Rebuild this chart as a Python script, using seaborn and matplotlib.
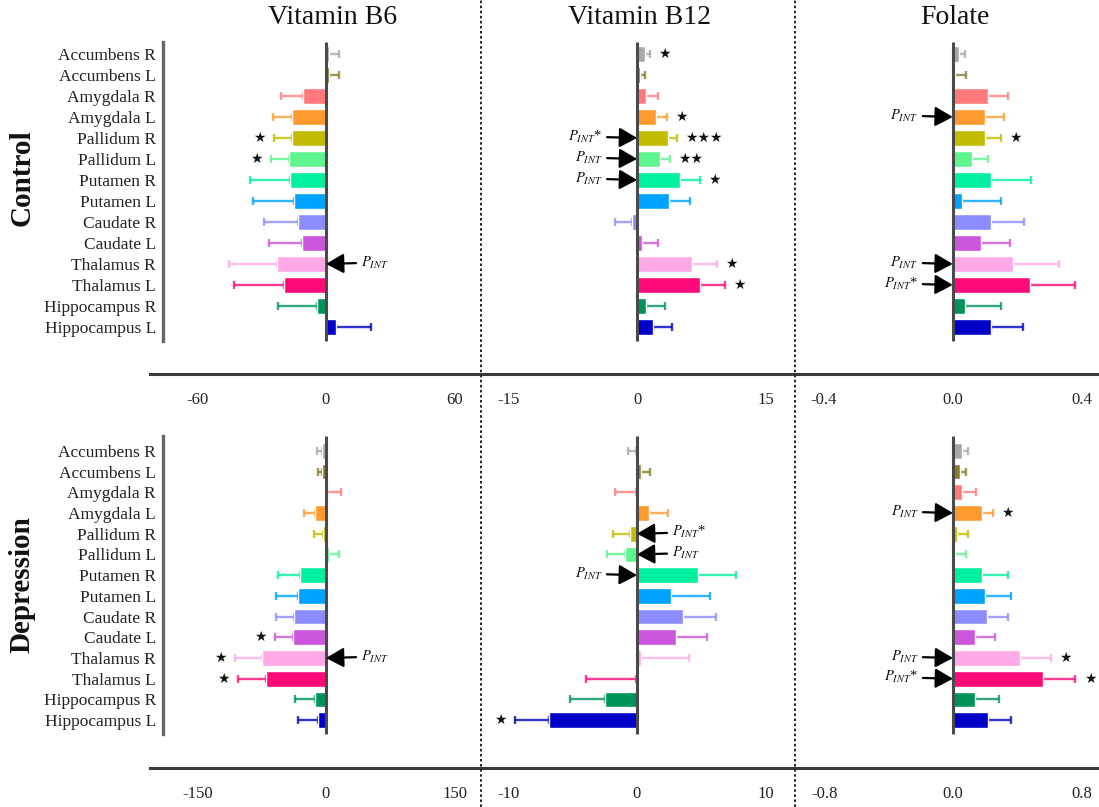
import matplotlib
matplotlib.use("Agg")
import matplotlib.pyplot as plt
import seaborn as sns
from matplotlib.lines import Line2D

# ---------------- data ----------------
regions = ["Accumbens R", "Accumbens L", "Amygdala R", "Amygdala L",
           "Pallidum R", "Pallidum L", "Putamen R", "Putamen L",
           "Caudate R", "Caudate L", "Thalamus R", "Thalamus L",
           "Hippocampus R", "Hippocampus L"]
colors = ["#a8a8a8", "#8c7a2e", "#ff7b7b", "#ff9a30", "#c2bd00", "#5ef58e",
          "#00f0a2", "#00a2ff", "#8c8cff", "#cc55dd", "#ffaae6", "#ff0a78",
          "#00945a", "#0000c8"]

titles = ["Vitamin B6", "Vitamin B12", "Folate"]
groups = ["Control", "Depression"]

b6_ctrl = [1.2, 1.5, -10.6, -15.7, -16.0, -17.1, -16.8, -14.8, -12.9, -11.4, -23.0, -19.8, -4.4, 4.5]
b6_ctrl_err = [4.9, 4.7, 10.6, 9.2, 8.3, 8.4, 18.7, 19.1, 15.9, 15.4, 22.3, 23.2, 17.9, 16.7]
b12_ctrl = [0.89, 0.3, 1.05, 2.2, 3.55, 2.7, 5.0, 3.74, -0.55, 0.55, 6.42, 7.28, 1.0, 1.9]
b12_ctrl_err = [0.58, 0.6, 1.35, 1.3, 1.05, 1.15, 2.35, 2.46, 2.02, 1.85, 2.88, 2.99, 2.27, 2.15]
fol_ctrl = [0.019, 0.007, 0.109, 0.099, 0.099, 0.059, 0.12, 0.028, 0.119, 0.089, 0.188, 0.24, 0.038, 0.119]
fol_ctrl_err = [0.020, 0.033, 0.061, 0.061, 0.050, 0.051, 0.122, 0.121, 0.103, 0.090, 0.142, 0.140, 0.111, 0.100]

b6_dep = [-5.1, -4.3, 0.6, -12.8, -3.1, 3.5, -30.4, -32.3, -37.4, -38.9, -75.1, -70.4, -13.2, -9.7]
b6_dep_err = [5.8, 5.4, 16.5, 12.9, 10.9, 11.7, 25.2, 26.1, 21.0, 20.2, 31.1, 32.7, 23.0, 22.6]
b12_dep = [-0.08, 0.31, -0.1, 0.97, -0.56, -0.97, 4.73, 2.63, 3.62, 3.0, 0.35, -0.1, -2.5, -6.81]
b12_dep_err = [0.60, 0.73, 1.6, 1.46, 1.32, 1.35, 2.99, 3.09, 2.54, 2.46, 3.71, 3.83, 2.73, 2.67]
fol_dep = [0.056, 0.046, 0.058, 0.18, 0.025, 0.015, 0.18, 0.197, 0.212, 0.139, 0.419, 0.56, 0.139, 0.22]
fol_dep_err = [0.037, 0.037, 0.085, 0.069, 0.068, 0.067, 0.16, 0.164, 0.128, 0.122, 0.191, 0.202, 0.145, 0.141]

ticks_ctrl = [[-60, 0, 60], [-15, 0, 15], [-0.4, 0.0, 0.4]]
ticks_dep = [[-150, 0, 150], [-10, 0, 10], [-0.8, 0.0, 0.8]]

# significance stars: (row, col) -> [(region index, label)]
stars = {
    (0, 0): [(4, "★"), (5, "★")],
    (0, 1): [(0, "★"), (3, "★"), (4, "★★★"), (5, "★★"), (6, "★"), (10, "★"), (11, "★")],
    (0, 2): [(4, "★")],
    (1, 0): [(9, "★"), (10, "★"), (11, "★")],
    (1, 1): [(13, "★")],
    (1, 2): [(3, "★"), (10, "★"), (11, "★")],
}
# interaction markers: (row, col) -> [(region index, side of text, label)]
pint = {
    (0, 0): [(10, "R", "")],
    (0, 1): [(4, "L", "*"), (5, "L", ""), (6, "L", "")],
    (0, 2): [(3, "L", ""), (10, "L", ""), (11, "L", "*")],
    (1, 0): [(10, "R", "")],
    (1, 1): [(4, "R", "*"), (5, "R", ""), (6, "L", "")],
    (1, 2): [(3, "L", ""), (10, "L", ""), (11, "L", "*")],
}

values = [[(b6_ctrl, b6_ctrl_err), (b12_ctrl, b12_ctrl_err), (fol_ctrl, fol_ctrl_err)],
          [(b6_dep, b6_dep_err), (b12_dep, b12_dep_err), (fol_dep, fol_dep_err)]]

# ---------------- style ----------------
sns.set_style("white")
plt.rcParams["font.family"] = ["Liberation Serif", "DejaVu Sans"]
plt.rcParams["mathtext.fontset"] = "stix"
plt.rcParams["axes.unicode_minus"] = False

W, H = 1099, 807
fig = plt.figure(figsize=(W / 100, H / 100), dpi=100)

col_px = [150, 481, 795, 1099]
row_px = [(42, 374), (436, 768)]
ylims = [(15.24, -0.57), (15.31, -0.72)]
spine_bounds = [(-0.57, 13.67), (-0.72, 13.67)]
xlims = [[(-82.2, 72.4), (-18.2, 18.4), (-0.49, 0.454)],
         [(-205.4, 180.9), (-12.14, 12.30), (-0.984, 0.909)]]
all_ticks = [ticks_ctrl, ticks_dep]
axis_col = "#3a3a3a"

for r in range(2):
    for c in range(3):
        x0, x1 = col_px[c], col_px[c + 1]
        y0, y1 = row_px[r]
        ax = fig.add_axes([x0 / W, 1 - y1 / H, (x1 - x0) / W, (y1 - y0) / H])
        ax.patch.set_alpha(0)
        vals, errs = values[r][c]
        sns.barplot(x=vals, y=regions, hue=regions, order=regions, hue_order=regions,
                    palette=colors, orient="h", width=0.76, saturation=1,
                    legend=False, ax=ax, zorder=2)
        for i, (v, e) in enumerate(zip(vals, errs)):
            xerr = [[0], [e]] if v >= 0 else [[e], [0]]
            ax.errorbar([v], [i], xerr=xerr, fmt="none", ecolor=colors[i],
                        elinewidth=1.7, capsize=2.8, capthick=1.7, alpha=0.8, zorder=1)
        lo, hi = spine_bounds[r]
        ax.plot([0, 0], [lo, hi], color="#4a4a4a", lw=2.2, zorder=3, solid_capstyle="butt")
        ax.set_xlim(*xlims[r][c])
        ax.set_ylim(*ylims[r])
        ax.set_xlabel("")
        ax.set_ylabel("")
        for s in ["top", "right"]:
            ax.spines[s].set_visible(False)
        ax.spines["bottom"].set_color(axis_col)
        ax.spines["bottom"].set_linewidth(2.2)
        ticks = all_ticks[r][c]
        ax.set_xticks(ticks)
        if c == 2:
            ax.set_xticklabels([f"{t:.1f}" for t in ticks])
        else:
            ax.set_xticklabels([f"{t:g}" for t in ticks])
        ax.tick_params(axis="x", direction="out", length=8, width=1.3, color=axis_col,
                       pad=5, labelsize=12, labelcolor="#222222")
        if c == 0:
            ax.spines["left"].set_position(("axes", (163 - 150) / (x1 - x0)))
            ax.spines["left"].set_bounds(lo, hi)
            ax.spines["left"].set_color("#666666")
            ax.spines["left"].set_linewidth(2.4)
            ax.tick_params(axis="y", length=0, pad=5, labelsize=12.5, labelcolor="#222222")
        else:
            ax.spines["left"].set_visible(False)
            ax.tick_params(axis="y", left=False, labelleft=False)

        # stars
        for i, s in stars.get((r, c), []):
            v, e = vals[i], errs[i]
            end = v + e if v >= 0 else v - e
            ax.annotate(s, xy=(end, i), xytext=(6 if v >= 0 else -6, 0),
                        textcoords="offset points", ha="left" if v >= 0 else "right",
                        va="center", fontsize=10, family="DejaVu Sans", color="#111111")
        # interaction arrows
        for i, side, extra in pint.get((r, c), []):
            label = r"$P_{INT}$" + extra
            dx = 25 if side == "R" else -25
            ax.annotate(label, xy=(0, i), xytext=(dx, 1),
                        textcoords="offset points", ha="left" if side == "R" else "right",
                        va="center", fontsize=10.5, color="#111111",
                        arrowprops=dict(arrowstyle="-|>,head_length=0.9,head_width=0.5",
                                        color="black", lw=1.6, shrinkA=1, shrinkB=0,
                                        mutation_scale=12))

# titles
for x, t in zip([333, 640, 955], titles):
    fig.text(x / W, 1 - 18 / H, t, ha="center", va="center", fontsize=20, color="#111111")
# row labels
fig.text(22 / W, 1 - 178 / H, groups[0], rotation=90, ha="center", va="center",
         fontsize=21, fontweight="bold", color="#111111")
fig.text(22 / W, 1 - 585 / H, groups[1], rotation=90, ha="center", va="center",
         fontsize=21, fontweight="bold", color="#111111")

# dotted separators
for xp in [481, 795]:
    fig.add_artist(Line2D([xp / W, xp / W], [0, 1], transform=fig.transFigure,
                          color="#222222", lw=1.4, ls=(0, (1.3, 1.3))))

fig.savefig("out.png", dpi=100)
